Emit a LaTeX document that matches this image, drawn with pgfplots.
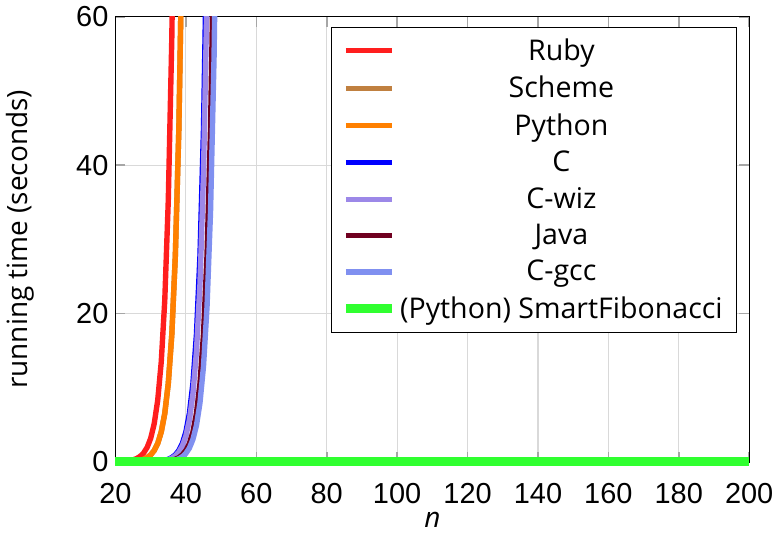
\documentclass[border=0pt]{standalone}
\usepackage{pgfplots}
\pgfplotsset{compat=1.18}
\usepackage{fontspec}
\setmainfont{Open Sans}
\newfontfamily\tickfont{Liberation Sans}
\definecolor{cRuby}{RGB}{255,30,30}
\definecolor{cScheme}{RGB}{192,128,64}
\definecolor{cPython}{RGB}{255,128,0}
\definecolor{cC}{RGB}{0,0,255}
\definecolor{cWiz}{RGB}{156,136,232}
\definecolor{cJava}{RGB}{112,0,32}
\definecolor{cGcc}{RGB}{128,144,240}
\definecolor{cSmart}{RGB}{48,255,48}
\begin{document}
\begin{tikzpicture}
\begin{axis}[
  scale only axis,
  width=317.5pt, height=223pt,
  xmin=20, xmax=200, ymin=0, ymax=60,
  xtick={20,40,...,200}, ytick={0,20,40,60},
  grid=major,
  grid style={gray!30, line width=0.6pt},
  major tick style={gray!70, line width=0.8pt},
  major tick length=5pt,
  axis line style={black, line width=0.6pt},
  /pgf/number format/assume math mode=true,
  tick label style={font=\tickfont\fontsize{14.5}{16}\selectfont},
  xticklabel style={yshift=-7pt},
  xlabel={\textit{n}}, ylabel={running time (seconds)},
  label style={font=\fontsize{14}{16}\selectfont},
  xlabel style={yshift=2.5pt},
  ylabel style={yshift=14pt},
  clip mode=individual,
  legend style={at={(1,1)}, anchor=north east, xshift=-6pt, yshift=-5pt,
    font=\fontsize{14.3}{16}\selectfont, cells={align=center},
    row sep=2.4pt, inner xsep=5pt, inner ysep=3.5pt, draw=black, line width=0.6pt},
  legend image code/.code={\draw[#1] (0pt,0pt) -- (23pt,0pt);},
  every axis plot/.append style={line width=2.7pt},
]
\addplot[cRuby] coordinates {(20,0.02)(24,0.15)(25,0.29)(26,0.46)(27,0.75)(28,1.22)(29,1.97)(30,3.19)(31,5.16)(32,8.34)(33,13.5)(34,21.8)(35,35.3)(36,57.2)(37,92.5)};
\addlegendentry{Ruby}
\addplot[cScheme] coordinates {(20,0.01)(26,0.13)(27,0.22)(28,0.36)(29,0.59)(30,0.96)(31,1.55)(32,2.50)(33,4.05)(34,6.55)(35,10.6)(36,17.2)(37,27.8)(38,44.9)(39,72.7)};
\addlegendentry{Scheme}
\addplot[cPython] coordinates {(20,0.01)(26,0.13)(27,0.22)(28,0.36)(29,0.59)(30,0.96)(31,1.55)(32,2.50)(33,4.05)(34,6.55)(35,10.6)(36,17.2)(37,27.8)(38,44.9)(39,72.7)};
\addlegendentry{Python}
\addplot[cC] coordinates {(20,0.001)(34,0.22)(35,0.36)(36,0.59)(37,0.96)(38,1.55)(39,2.50)(40,4.05)(41,6.55)(42,10.6)(43,17.2)(44,27.8)(45,44.9)(46,72.7)};
\addlegendentry{C}
\addplot[cWiz] coordinates {(20,0.001)(34,0.20)(35,0.32)(36,0.51)(37,0.83)(38,1.34)(39,2.17)(40,3.51)(41,5.68)(42,9.19)(43,14.9)(44,24.0)(45,38.9)(46,62.9)};
\addlegendentry{C-wiz}
\addplot[cJava] coordinates {(20,0.001)(36,0.22)(37,0.36)(38,0.59)(39,0.96)(40,1.55)(41,2.50)(42,4.05)(43,6.55)(44,10.6)(45,17.2)(46,27.8)(47,44.9)(48,72.7)};
\addlegendentry{Java}
\addplot[cGcc] coordinates {(20,0.001)(36,0.17)(37,0.28)(38,0.44)(39,0.72)(40,1.16)(41,1.88)(42,3.05)(43,4.93)(44,7.97)(45,12.9)(46,20.9)(47,33.8)(48,54.6)(49,88.4)};
\addlegendentry{C-gcc}
\addplot[cSmart, line width=4.5pt, clip=false] coordinates {(20,0)(40,0)(60,0)(80,0)(100,0)(120,0)(140,0)(160,0)(180,0)(200,0)};
\addlegendentry{(Python) SmartFibonacci}
\end{axis}
\end{tikzpicture}
\end{document}
